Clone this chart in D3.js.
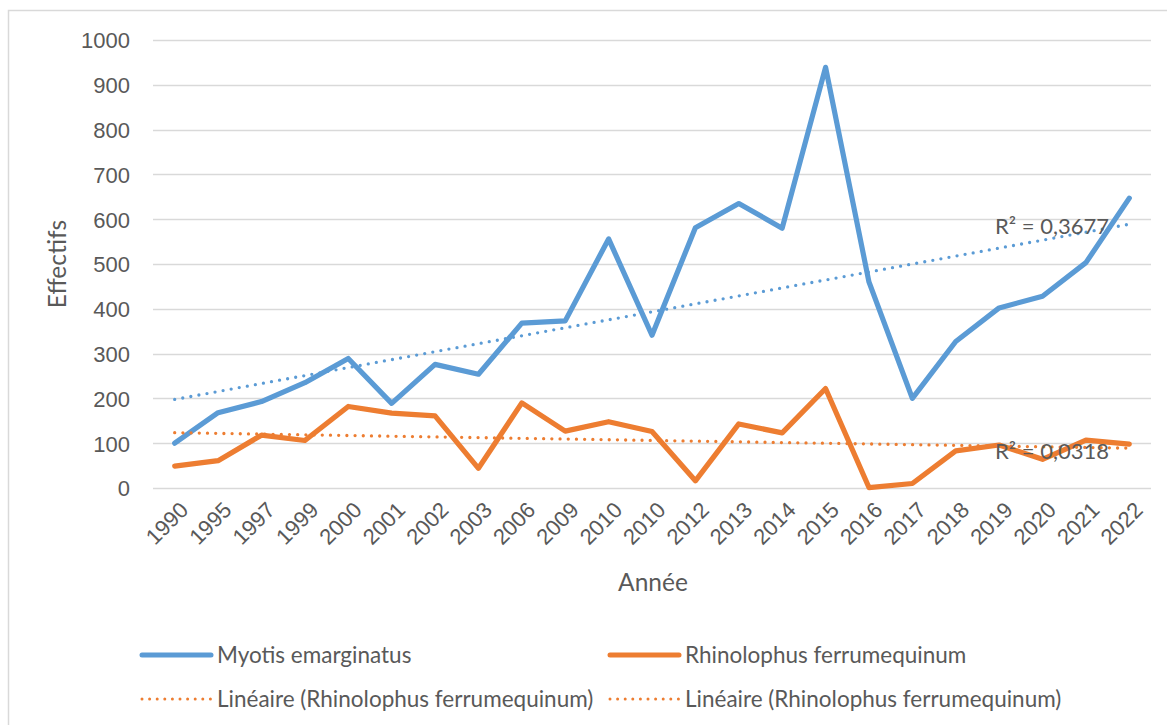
<!DOCTYPE html>
<html>
<head>
<meta charset="utf-8">
<script src="https://cdn.jsdelivr.net/npm/d3@7"></script>
<style>
  body { margin: 0; background: #fff; }
  svg { display: block; font-family: Lato, "Open Sans", sans-serif; }
  .tick text { fill: #595959; }
</style>
</head>
<body>
<svg id="chart" width="1167" height="725"></svg>
<script>
// Data
const years = ["1990","1995","1997","1999","2000","2001","2002","2003","2006","2009","2010",
               "2010","2012","2013","2014","2015","2016","2017","2018","2019","2020","2021","2022"];
const myotis = [100,168,193,235,289,189,276,254,368,373,556,341,581,635,580,939,460,200,327,402,428,503,647];
const rhinolophus = [49,61,118,106,182,167,161,44,190,127,148,126,16,143,123,222,1,10,83,96,64,107,98];
const yTicks = [0,100,200,300,400,500,600,700,800,900,1000];
const r2Labels = ["R² = 0,3677", "R² = 0,0318"];
const legendLabels = ["Myotis emarginatus", "Rhinolophus ferrumequinum",
                      "Linéaire (Rhinolophus ferrumequinum)", "Linéaire (Rhinolophus ferrumequinum)"];

const blue = "#5B9BD5", orange = "#ED7D31", textCol = "#595959", gridCol = "#d9d9d9";

const svg = d3.select("#chart");
const margin = {left: 153, right: 1151, top: 40, bottom: 488};

// chart border
svg.append("rect")
  .attr("x", 8.5).attr("y", 10.5)
  .attr("width", 1180).attr("height", 740)
  .attr("fill", "none").attr("stroke", gridCol).attr("stroke-width", 1.5);

const idx = d3.range(years.length);
const x = d3.scalePoint().domain(idx).range([margin.left, margin.right]).padding(0.5);
const y = d3.scaleLinear().domain([0, 1000]).range([margin.bottom, margin.top]);

// gridlines
svg.append("g").selectAll("line")
  .data(yTicks)
  .join("line")
  .attr("x1", margin.left).attr("x2", margin.right)
  .attr("y1", d => Math.round(y(d)) + 0.5).attr("y2", d => Math.round(y(d)) + 0.5)
  .attr("stroke", gridCol).attr("stroke-width", 1.3);

// y axis
const yAxis = svg.append("g")
  .attr("transform", `translate(${margin.left},0)`)
  .call(d3.axisLeft(y).tickValues(yTicks).tickFormat(d3.format("d")).tickSize(0).tickPadding(23));
yAxis.select(".domain").remove();
yAxis.selectAll("text").style("font-size", "22px").attr("dy", "0.36em");

// x axis labels (rotated)
const xAxis = svg.append("g")
  .attr("transform", `translate(0,${margin.bottom})`)
  .call(d3.axisBottom(x).tickSize(0).tickFormat(i => years[i]));
xAxis.select(".domain").remove();
xAxis.selectAll("text")
  .style("font-size", "22px")
  .attr("text-anchor", "end")
  .attr("y", 0).attr("dy", "0.35em")
  .attr("transform", "translate(9,18) rotate(-45)");

// axis titles
svg.append("text")
  .attr("transform", "translate(66,264) rotate(-90)")
  .attr("text-anchor", "middle")
  .attr("fill", textCol).style("font-size", "24.5px")
  .text("Effectifs");
svg.append("text")
  .attr("x", 653).attr("y", 591)
  .attr("text-anchor", "middle")
  .attr("fill", textCol).style("font-size", "24.5px")
  .text("Année");

// series lines
const line = d3.line().x((d, i) => x(i)).y(d => y(d));
[[myotis, blue], [rhinolophus, orange]].forEach(([vals, col]) => {
  svg.append("path")
    .datum(vals)
    .attr("d", line)
    .attr("fill", "none")
    .attr("stroke", col)
    .attr("stroke-width", 5.2)
    .attr("stroke-linejoin", "round")
    .attr("stroke-linecap", "round");
});

// linear trend lines (least squares on category index)
function linReg(vals) {
  const mx = d3.mean(idx), my = d3.mean(vals);
  let sxy = 0, sxx = 0;
  vals.forEach((v, i) => { sxy += (i - mx) * (v - my); sxx += (i - mx) * (i - mx); });
  const b = sxy / sxx;
  return i => my + b * (i - mx);
}
[[myotis, blue], [rhinolophus, orange]].forEach(([vals, col]) => {
  const f = linReg(vals);
  const ends = [0, idx.length - 1];
  svg.append("line")
    .attr("x1", x(ends[0])).attr("y1", y(f(ends[0])))
    .attr("x2", x(ends[1])).attr("y2", y(f(ends[1])))
    .attr("stroke", col)
    .attr("stroke-width", 3.3)
    .attr("stroke-dasharray", "0 8.2")
    .attr("stroke-linecap", "round");
});

// R² labels
svg.append("text").attr("x", 995).attr("y", 234)
  .attr("fill", textCol).style("font-size", "22px").text(r2Labels[0]);
svg.append("text").attr("x", 995).attr("y", 459)
  .attr("fill", textCol).style("font-size", "22px").text(r2Labels[1]);

// legend
const legendItems = [
  {label: legendLabels[0], col: blue, dotted: false, lx: 142, ly: 655},
  {label: legendLabels[1], col: orange, dotted: false, lx: 610, ly: 655},
  {label: legendLabels[2], col: orange, dotted: true, lx: 142, ly: 699},
  {label: legendLabels[3], col: orange, dotted: true, lx: 610, ly: 699}
];
const lg = svg.append("g").selectAll("g")
  .data(legendItems)
  .join("g")
  .attr("transform", d => `translate(${d.lx},${d.ly})`);
lg.append("line")
  .attr("x1", 0).attr("x2", 69)
  .attr("stroke", d => d.col)
  .attr("stroke-width", d => d.dotted ? 3 : 5)
  .attr("stroke-dasharray", d => d.dotted ? "0 7.6" : null)
  .attr("stroke-linecap", "round");
lg.append("text")
  .attr("x", 75).attr("dy", "0.35em")
  .attr("fill", textCol).style("font-size", "22.5px")
  .text(d => d.label);
</script>
</body>
</html>
